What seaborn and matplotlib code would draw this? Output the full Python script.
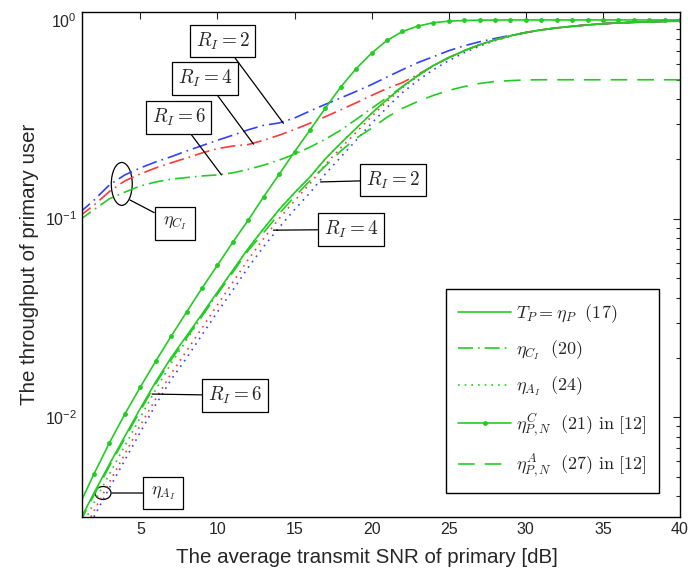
import matplotlib
matplotlib.use("Agg")
import numpy as np
import pandas as pd
import seaborn as sns
import matplotlib.pyplot as plt
from matplotlib.lines import Line2D
from matplotlib.patches import Ellipse
from matplotlib.font_manager import FontProperties

# SNR grid [dB]
snr_db = list(range(1, 41))

# eta_{P,N}^C (21) in [12]
eta_pn_c = [0.00356, 0.00520, 0.00745, 0.0104, 0.0142, 0.0192, 0.0256, 0.0339, 0.0447, 0.0583,
            0.0762, 0.0983, 0.129, 0.167, 0.217, 0.279, 0.360, 0.460, 0.569, 0.681,
            0.789, 0.875, 0.931, 0.968, 0.986, 0.994, 0.997, 0.999, 1.0, 1.0,
            1.0, 1.0, 1.0, 1.0, 1.0, 1.0, 1.0, 1.0, 1.0, 1.0]

# T_P = eta_P (17)
t_p = [0.00295, 0.00417, 0.00582, 0.00804, 0.0111, 0.0151, 0.0200, 0.0257, 0.0331, 0.0427,
       0.0550, 0.0708, 0.0891, 0.111, 0.135, 0.162, 0.200, 0.240, 0.285, 0.339,
       0.398, 0.462, 0.525, 0.589, 0.646, 0.700, 0.750, 0.794, 0.832, 0.865,
       0.891, 0.912, 0.929, 0.944, 0.957, 0.966, 0.973, 0.979, 0.984, 0.986]

# eta_{P,N}^A (27) in [12]
eta_pn_a = [0.00288, 0.00407, 0.00569, 0.00786, 0.0108, 0.0148, 0.0195, 0.0251, 0.0323, 0.0417,
            0.0537, 0.0692, 0.0851, 0.106, 0.129, 0.155, 0.184, 0.219, 0.254, 0.285,
            0.324, 0.359, 0.389, 0.417, 0.442, 0.462, 0.479, 0.490, 0.495, 0.499,
            0.5, 0.5, 0.5, 0.5, 0.5, 0.5, 0.5, 0.5, 0.5, 0.5]

# eta_{C_I} (20) for R_I = 2, 4, 6
eta_c_r2 = [0.106, 0.124, 0.148, 0.166, 0.180, 0.193, 0.205, 0.219, 0.233, 0.248,
            0.263, 0.280, 0.295, 0.303, 0.321, 0.348, 0.376, 0.405, 0.437, 0.473,
            0.516, 0.562, 0.610, 0.653, 0.700, 0.741, 0.776, 0.807, 0.836, 0.863,
            0.891, 0.912, 0.929, 0.944, 0.957, 0.966, 0.973, 0.979, 0.984, 0.986]
eta_c_r4 = [0.102, 0.117, 0.137, 0.155, 0.168, 0.180, 0.191, 0.202, 0.214, 0.225,
            0.232, 0.236, 0.248, 0.263, 0.281, 0.302, 0.326, 0.353, 0.383, 0.417,
            0.452, 0.484, 0.531, 0.589, 0.646, 0.700, 0.750, 0.794, 0.832, 0.865,
            0.891, 0.912, 0.929, 0.944, 0.957, 0.966, 0.973, 0.979, 0.984, 0.986]
eta_c_r6 = [0.0977, 0.111, 0.126, 0.136, 0.146, 0.153, 0.158, 0.161, 0.164, 0.166,
            0.170, 0.177, 0.186, 0.197, 0.211, 0.229, 0.251, 0.279, 0.316, 0.359,
            0.407, 0.462, 0.525, 0.589, 0.646, 0.700, 0.750, 0.794, 0.832, 0.865,
            0.891, 0.912, 0.929, 0.944, 0.957, 0.966, 0.973, 0.979, 0.984, 0.986]

# eta_{A_I} (24) for R_I = 2, 4, 6
eta_a_r2 = [0.00224, 0.00317, 0.00442, 0.00610, 0.00842, 0.0116, 0.0155, 0.0199, 0.0260, 0.0339,
            0.0437, 0.0569, 0.0724, 0.0902, 0.111, 0.135, 0.168, 0.204, 0.248, 0.302,
            0.363, 0.431, 0.496, 0.562, 0.624, 0.684, 0.738, 0.787, 0.828, 0.865,
            0.891, 0.912, 0.929, 0.944, 0.957, 0.966, 0.973, 0.979, 0.984, 0.986]
eta_a_r4 = [0.00240, 0.00339, 0.00473, 0.00654, 0.00912, 0.0124, 0.0166, 0.0216, 0.0282, 0.0368,
            0.0479, 0.0624, 0.0794, 0.100, 0.123, 0.150, 0.187, 0.227, 0.272, 0.327,
            0.389, 0.456, 0.521, 0.589, 0.646, 0.700, 0.750, 0.794, 0.832, 0.865,
            0.891, 0.912, 0.929, 0.944, 0.957, 0.966, 0.973, 0.979, 0.984, 0.986]
eta_a_r6 = [0.00263, 0.00372, 0.00519, 0.00720, 0.0100, 0.0138, 0.0187, 0.0245, 0.0323, 0.0422,
            0.0550, 0.0708, 0.0891, 0.111, 0.135, 0.162, 0.200, 0.240, 0.285, 0.339,
            0.398, 0.462, 0.525, 0.589, 0.646, 0.700, 0.750, 0.794, 0.832, 0.865,
            0.891, 0.912, 0.929, 0.944, 0.957, 0.966, 0.973, 0.979, 0.984, 0.986]

legend_labels = [r"$T_P = \eta_P\ \ (17)$",
                 r"$\eta_{C_I}\ \ (20)$",
                 r"$\eta_{A_I}\ \ (24)$",
                 r"$\eta_{P,N}^{C}\ \ (21)\ \mathrm{in}\ [12]$",
                 r"$\eta_{P,N}^{A}\ \ (27)\ \mathrm{in}\ [12]$"]

GREEN = "#22cc22"
BLUE = "#3340ff"
RED = "#ff3838"
DASHDOT = (0, (9, 3, 1, 3))
DOTTED = (0, (1, 3))
DASHED = (0, (10, 6))

sns.set_style("white")
plt.rcParams["font.family"] = ["Liberation Sans", "DejaVu Sans"]
plt.rcParams["mathtext.fontset"] = "custom"
plt.rcParams["mathtext.rm"] = "Liberation Sans"
plt.rcParams["mathtext.it"] = "Liberation Sans:italic"

fig, ax = plt.subplots(figsize=(6.88, 5.77), dpi=100)
fig.subplots_adjust(left=0.1188, right=0.9884, bottom=0.1045, top=0.9797)

lw = 1.2
# eta_A dotted
sns.lineplot(x=snr_db, y=eta_a_r2, ax=ax, color=BLUE, lw=lw, linestyle=DOTTED)
sns.lineplot(x=snr_db, y=eta_a_r4, ax=ax, color=RED, lw=lw, linestyle=DOTTED)
sns.lineplot(x=snr_db, y=eta_a_r6, ax=ax, color=GREEN, lw=lw, linestyle=DOTTED)
# eta_C dash-dot
sns.lineplot(x=snr_db, y=eta_c_r2, ax=ax, color=BLUE, lw=lw, linestyle=DASHDOT)
sns.lineplot(x=snr_db, y=eta_c_r4, ax=ax, color=RED, lw=lw, linestyle=DASHDOT)
sns.lineplot(x=snr_db, y=eta_c_r6, ax=ax, color=GREEN, lw=lw, linestyle=DASHDOT)
# reference curves
sns.lineplot(x=snr_db, y=eta_pn_a, ax=ax, color=GREEN, lw=lw, linestyle=DASHED)
sns.lineplot(x=snr_db, y=t_p, ax=ax, color=GREEN, lw=lw)
sns.lineplot(x=snr_db, y=eta_pn_c, ax=ax, color=GREEN, lw=lw, marker="o",
             markersize=3.5, markeredgewidth=0)

ax.set_yscale("log")
ax.set_xlim(1.2, 40)
ax.set_ylim(10 ** -2.5, 1.1)
ax.set_xticks([5, 10, 15, 20, 25, 30, 35, 40])
ax.tick_params(which="both", direction="in", top=True, right=True, labelsize=11.5)
ax.tick_params(which="major", length=5, width=0.8)
ax.tick_params(which="minor", length=3, width=0.8)
ax.tick_params(axis="x", which="minor", bottom=False, top=False)
for s in ax.spines.values():
    s.set_linewidth(1.0)
    s.set_color("black")

ax.set_xlabel("The average transmit SNR of primary [dB]", fontsize=14.8)
ax.xaxis.set_label_coords(0.477, -0.062)
ax.set_ylabel("The throughput of primary user", fontsize=14.8)

# annotations
box = dict(boxstyle="square,pad=0.3", fc="white", ec="black", lw=0.9)
arrow = dict(arrowstyle="-", color="black", lw=0.9, shrinkA=0, shrinkB=0)
notes = [
    (r"$R_I = 2$", (14.28, 0.302), (0.2353, 0.942)),
    (r"$R_I = 4$", (12.34, 0.237), (0.2061, 0.8677)),
    (r"$R_I = 6$", (10.26, 0.166), (0.1618, 0.7905)),
    (r"$R_I = 2$", (16.68, 0.153), (0.5203, 0.6667)),
    (r"$R_I = 4$", (13.63, 0.0875), (0.4501, 0.5687)),
    (r"$R_I = 6$", (5.76, 0.0131), (0.2561, 0.2402)),
]
for txt, xy, xyt in notes:
    ax.annotate(txt, xy=xy, xycoords="data", xytext=xyt, textcoords="axes fraction",
                ha="center", va="center", fontsize=13.8, math_fontfamily="cm",
                bbox=box, arrowprops=arrow)

ax.add_patch(Ellipse((0.0669, 0.659), 0.035, 0.085, transform=ax.transAxes,
                     fill=False, ec="black", lw=0.9))
ax.annotate(r"$\eta_{C_I}$", xy=(0.0807, 0.6271), xycoords="axes fraction",
            xytext=(0.1559, 0.5806), textcoords="axes fraction", ha="center", va="center",
            fontsize=13, math_fontfamily="cm", bbox=dict(boxstyle="square,pad=0.45", fc="white", ec="black", lw=0.9),
            arrowprops=arrow)
ax.add_patch(Ellipse((0.0356, 0.0469), 0.0267, 0.0257, transform=ax.transAxes,
                     fill=False, ec="black", lw=0.9))
ax.annotate(r"$\eta_{A_I}$", xy=(0.0506, 0.0469), xycoords="axes fraction",
            xytext=(0.1359, 0.0469), textcoords="axes fraction", ha="center", va="center",
            fontsize=13, math_fontfamily="cm", bbox=dict(boxstyle="square,pad=0.4", fc="white", ec="black", lw=0.9),
            arrowprops=arrow)

handles = [
    Line2D([], [], color=GREEN, lw=lw),
    Line2D([], [], color=GREEN, lw=lw, linestyle=DASHDOT),
    Line2D([], [], color=GREEN, lw=lw, linestyle=DOTTED),
    Line2D([], [], color=GREEN, lw=lw, marker="o", markersize=3.5, markeredgewidth=0, markevery=[1]),
    Line2D([], [], color=GREEN, lw=lw, linestyle=DASHED),
]
leg = ax.legend(handles, legend_labels, loc="lower right", bbox_to_anchor=(0.965, 0.0475),
                borderaxespad=0, prop=FontProperties(size=13, math_fontfamily="cm"),
                frameon=True, fancybox=False, edgecolor="black", framealpha=1,
                handlelength=2.9, labelspacing=0.75, borderpad=0.7, handletextpad=0.3)
leg.get_frame().set_linewidth(1.0)

plt.savefig("out.png", dpi=100)
